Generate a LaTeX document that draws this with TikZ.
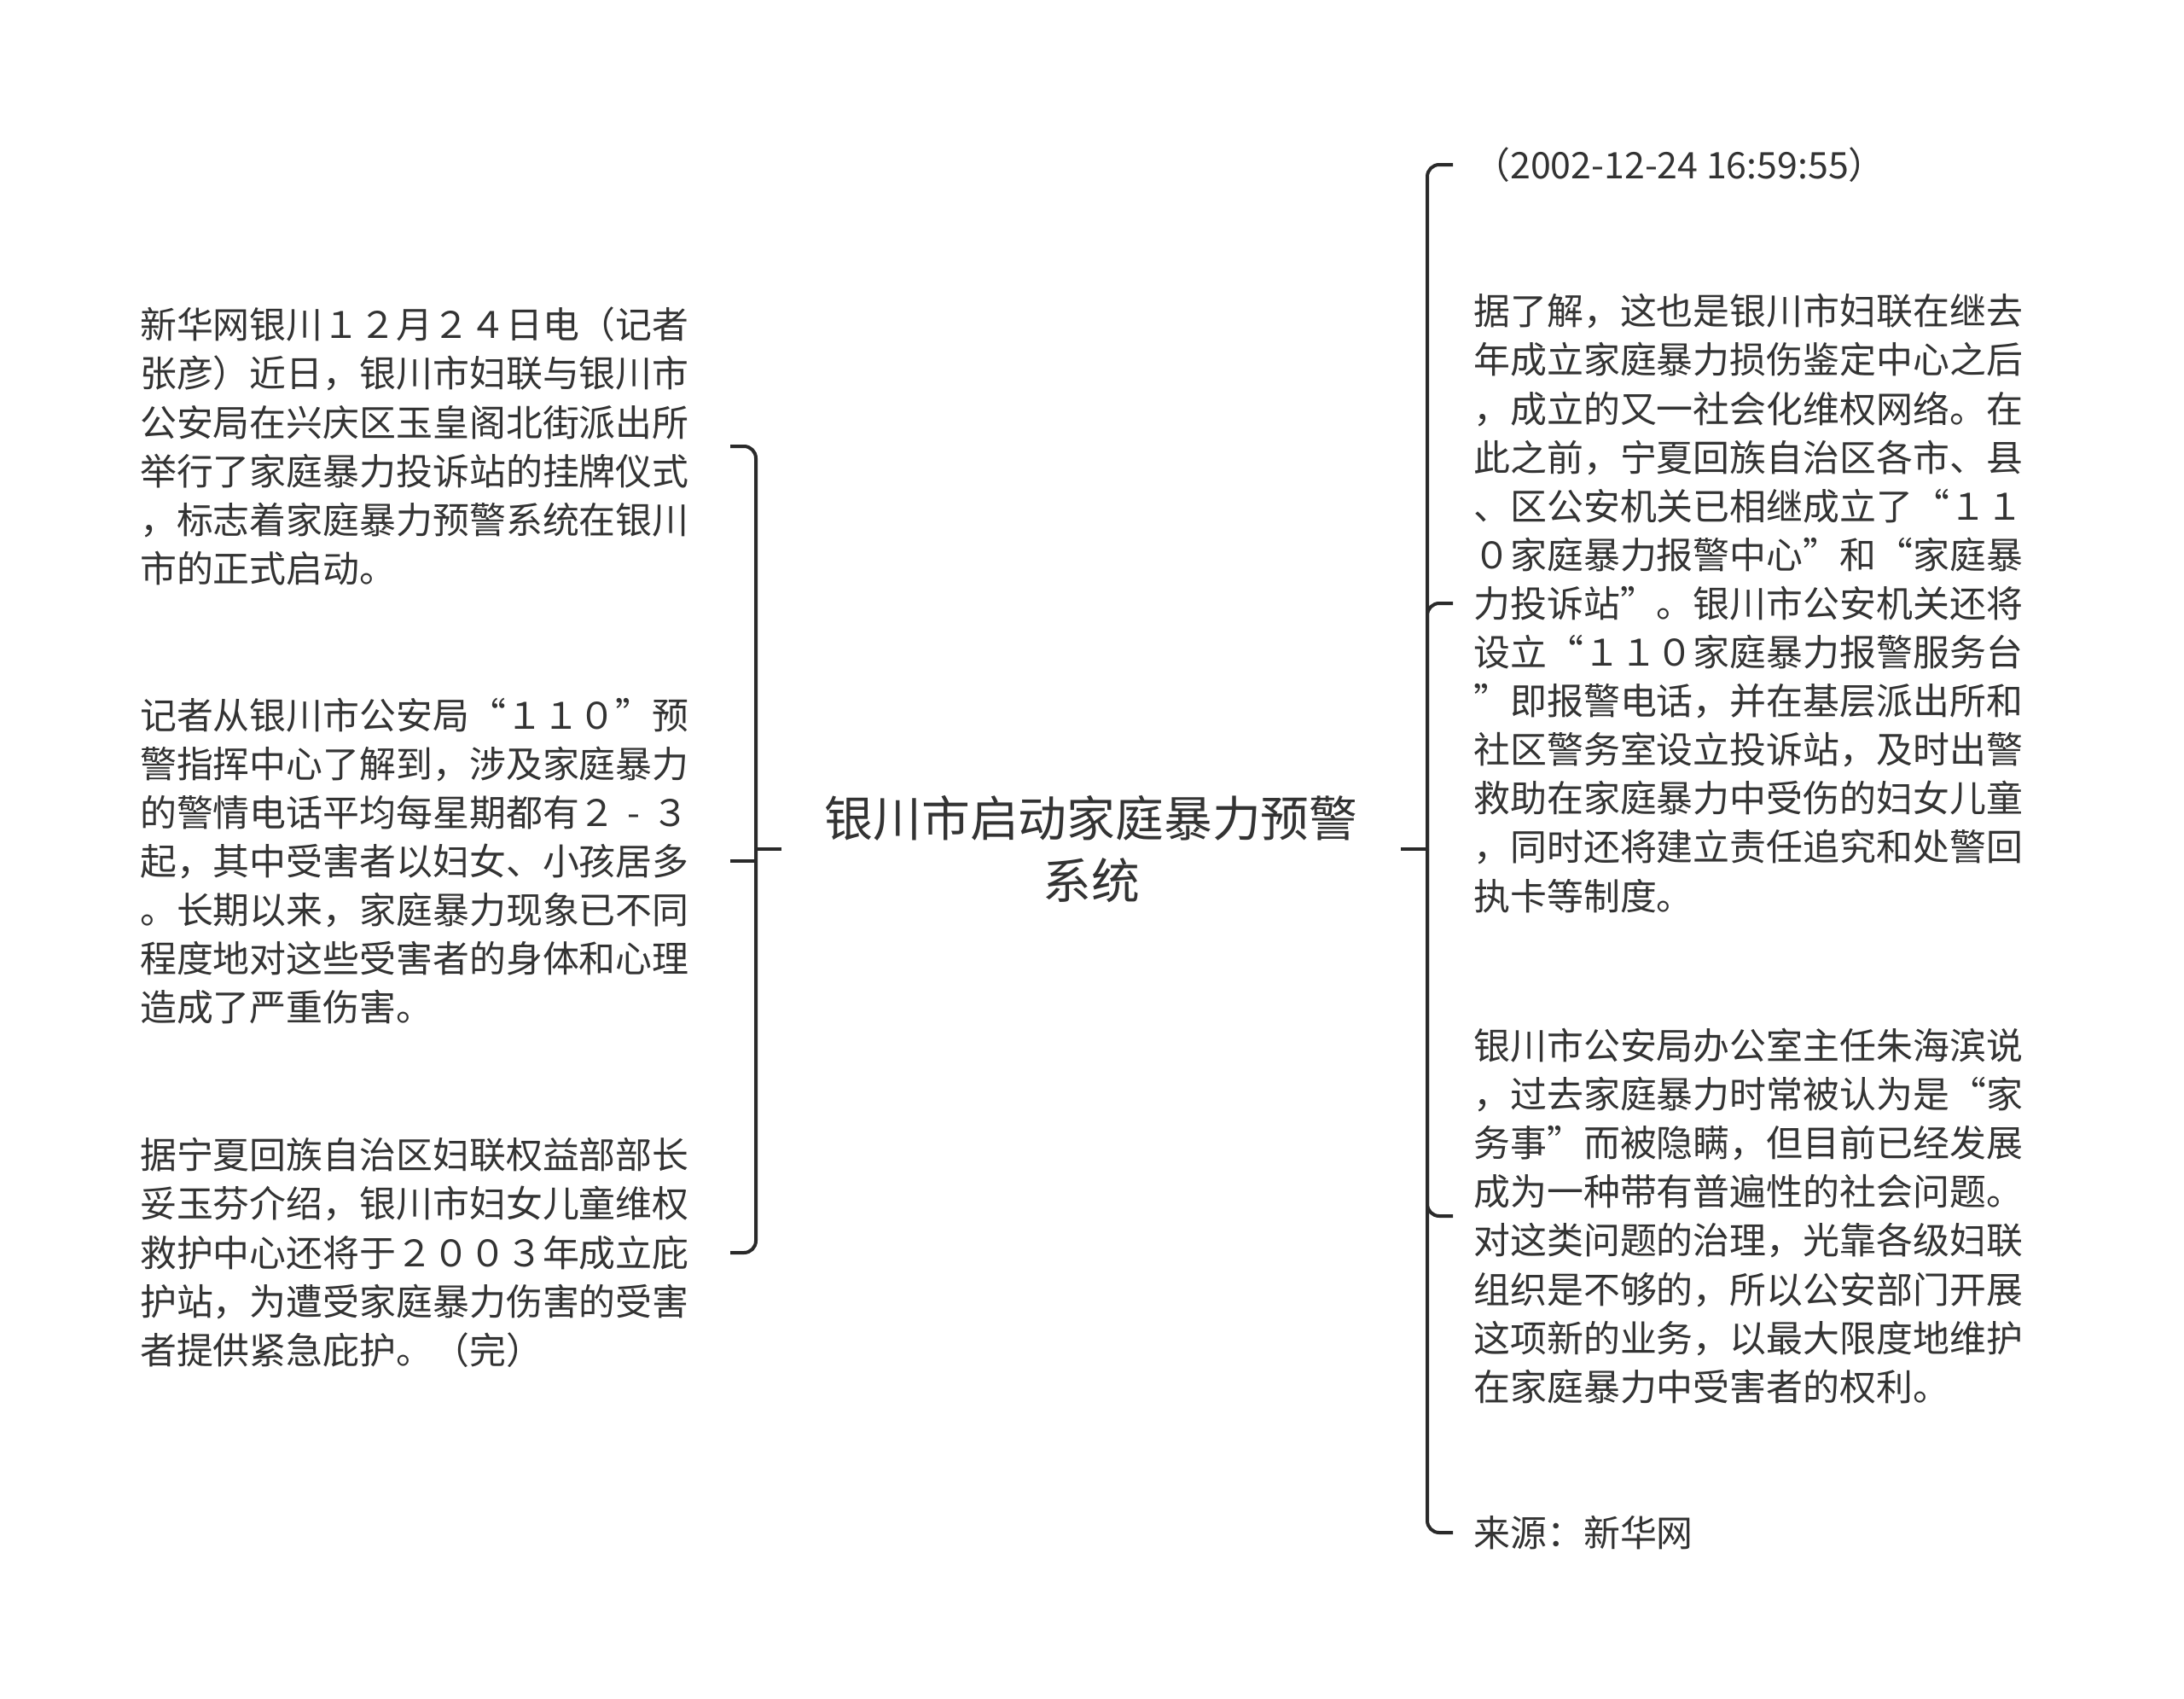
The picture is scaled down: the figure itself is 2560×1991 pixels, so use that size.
\documentclass[tikz,border=0pt]{standalone}
\usepackage{fontspec}
\setmainfont{Noto Sans CJK SC}
\definecolor{textgray}{HTML}{333333}
\definecolor{linegray}{HTML}{2A2A2A}
\begin{document}
\begin{tikzpicture}[x=0.5pt,y=-0.5pt,
  txt/.style={font=\fontsize{21.45pt}{28.55pt}\selectfont, text=textgray, align=left, inner ysep=0pt},
  leftnode/.style={txt, anchor=east, inner xsep=24pt},
  rightnode/.style={txt, anchor=west, inner xsep=12pt},
  titlenode/.style={font=\fontsize{28.4pt}{36.8pt}\selectfont, text=textgray, align=center, inner xsep=25pt, inner ysep=0pt},
  link/.style={draw=linegray, line width=2pt, rounded corners=7pt}]
\useasboundingbox[fill=white] (0,0) rectangle (2560,1991);

\node[titlenode] (root) at (1279,995) {银川市启动家庭暴力预警\\系统};

\node[leftnode] (l1) at (856,523) {新华网银川１２月２４日电（记者\\张彦）近日，银川市妇联与银川市\\公安局在兴庆区玉皇阁北街派出所\\举行了家庭暴力投诉站的挂牌仪式\\，标志着家庭暴力预警系统在银川\\市的正式启动。};
\node[leftnode] (l2) at (856,1009) {记者从银川市公安局“１１０”预\\警指挥中心了解到，涉及家庭暴力\\的警情电话平均每星期都有２\makebox[1em]{-}３\\起，其中受害者以妇女、小孩居多\\。长期以来，家庭暴力现象已不同\\程度地对这些受害者的身体和心理\\造成了严重伤害。};
\node[leftnode] (l3) at (856,1468) {据宁夏回族自治区妇联权益部部长\\妥玉芬介绍，银川市妇女儿童维权\\救护中心还将于２００３年成立庇\\护站，为遭受家庭暴力伤害的受害\\者提供紧急庇护。（完）};

\node[rightnode] (r0) at (1703,193) {（2002-12-24 16:59:55）};
\node[rightnode] (r1) at (1703,707) {据了解，这也是银川市妇联在继去\\年成立家庭暴力损伤鉴定中心之后\\，成立的又一社会化维权网络。在\\此之前，宁夏回族自治区各市、县\\、区公安机关已相继成立了“１１\\０家庭暴力报警中心”和“家庭暴\\力投诉站”。银川市公安机关还将\\设立“１１０家庭暴力报警服务台\\”即报警电话，并在基层派出所和\\社区警务室设立投诉站，及时出警\\救助在家庭暴力中受伤的妇女儿童\\，同时还将建立责任追究和处警回\\执卡等制度。};
\node[rightnode] (r2) at (1703,1425) {银川市公安局办公室主任朱海滨说\\，过去家庭暴力时常被认为是“家\\务事”而被隐瞒，但目前已经发展\\成为一种带有普遍性的社会问题。\\对这类问题的治理，光靠各级妇联\\组织是不够的，所以公安部门开展\\这项新的业务，以最大限度地维护\\在家庭暴力中受害者的权利。};
\node[rightnode] (r3) at (1703,1796) {来源：新华网};

\coordinate (lj) at (886,995);
\coordinate (rj) at (1673,995);

\draw[link] (root.west) -- (lj);
\draw[link] (lj) |- (l1.east);
\draw[link, sharp corners] (lj) |- (l2.east);
\draw[link] (lj) |- (l3.east);

\draw[link] (root.east) -- (rj);
\draw[link] (rj) |- (r0.west);
\draw[link] (rj) |- (r1.west);
\draw[link] (rj) |- (r2.west);
\draw[link] (rj) |- (r3.west);
\end{tikzpicture}
\end{document}
